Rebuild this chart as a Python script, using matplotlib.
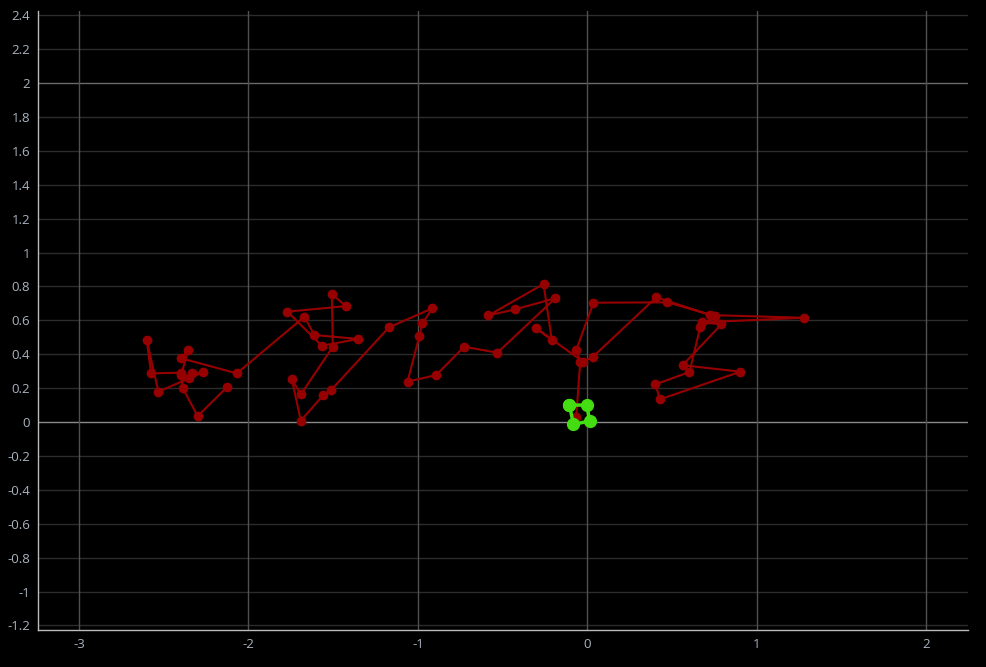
import matplotlib
matplotlib.use("Agg")
import matplotlib.pyplot as plt
import numpy as np

plt.rcParams['axes.unicode_minus'] = False
plt.rcParams['font.family'] = ['Open Sans', 'DejaVu Sans']

# trayectoria (rojo), en orden
path_x = [-2.128, -2.300, -2.388, -2.400, -2.575, -2.601, -2.532, -2.270, -2.331, -2.351,
          -2.398, -2.355, -2.398, -2.069, -1.670, -1.611, -1.351, -1.567, -1.770, -1.425,
          -1.508, -1.502, -1.691, -1.744, -1.691, -1.558, -1.512, -1.170, -0.914, -0.973,
          -0.991, -1.061, -0.892, -0.727, -0.530, -0.189, -0.425, -0.583, -0.258, -0.209,
          -0.301, -0.025, 0.034, 0.408, 0.727, 1.278, 0.677, 0.792, 0.563, 0.904,
          0.431, 0.402, 0.604, 0.667, 0.756, 0.474, 0.037, -0.065, -0.041, -0.065]
path_y = [0.205, 0.035, 0.199, 0.291, 0.287, 0.484, 0.179, 0.293, 0.287, 0.258,
          0.277, 0.425, 0.376, 0.287, 0.621, 0.513, 0.490, 0.450, 0.651, 0.684,
          0.755, 0.444, 0.163, 0.252, 0.008, 0.159, 0.189, 0.559, 0.671, 0.582,
          0.507, 0.238, 0.277, 0.444, 0.409, 0.730, 0.665, 0.629, 0.814, 0.484,
          0.553, 0.356, 0.385, 0.736, 0.631, 0.615, 0.588, 0.576, 0.335, 0.297,
          0.134, 0.222, 0.295, 0.559, 0.625, 0.706, 0.704, 0.425, 0.356, 0.031]

# contorno actual (verde)
shape_x = [-0.105, -0.002, 0.014, -0.081, -0.105]
shape_y = [0.100, 0.100, 0.006, -0.014, 0.100]

x_ticks = [-3, -2, -1, 0, 1, 2]
y_ticks = [round(v, 1) + 0.0 for v in np.arange(-1.2, 2.41, 0.2)]

fig = plt.figure(figsize=(9.87, 6.67), dpi=100, facecolor='black')
ax = fig.add_axes([0.039, 0.0555, 0.942, 0.928])
ax.set_facecolor('black')

for v in y_ticks:
    if abs(v) < 1e-9:
        ax.axhline(v, color='#8a8a8a', lw=1, zorder=1)
    elif abs(v - 2) < 1e-9:
        ax.axhline(v, color='#6a6a6a', lw=1, zorder=1)
    else:
        ax.axhline(v, color='#2c2c2c', lw=1, zorder=1)
for v in x_ticks:
    ax.axvline(v, color='#505050', lw=1, zorder=1)

ax.plot(path_x, path_y, color='#960000', lw=1.5, marker='o', ms=6,
        markerfacecolor='#960000', markeredgecolor='#960000', zorder=3)
ax.plot(shape_x, shape_y, color='#44dd11', lw=2.5, marker='o', ms=8.5,
        markerfacecolor='#44dd11', markeredgecolor='#44dd11', zorder=4)

ax.set_xlim(-3.24, 2.25)
ax.set_ylim(-1.227, 2.425)
ax.set_xticks(x_ticks)
ax.set_yticks(y_ticks)
ax.set_xticklabels(['%g' % v for v in x_ticks])
ax.set_yticklabels(['0' if abs(v) < 1e-9 else '%g' % v for v in y_ticks])
ax.tick_params(colors='#a9b3bf', labelsize=9.5, length=0, pad=6)
for s in ['top', 'right']:
    ax.spines[s].set_visible(False)
for s in ['left', 'bottom']:
    ax.spines[s].set_color('#bbbbbb')
    ax.spines[s].set_linewidth(1)

fig.savefig('out.png', dpi=100, facecolor='black')
